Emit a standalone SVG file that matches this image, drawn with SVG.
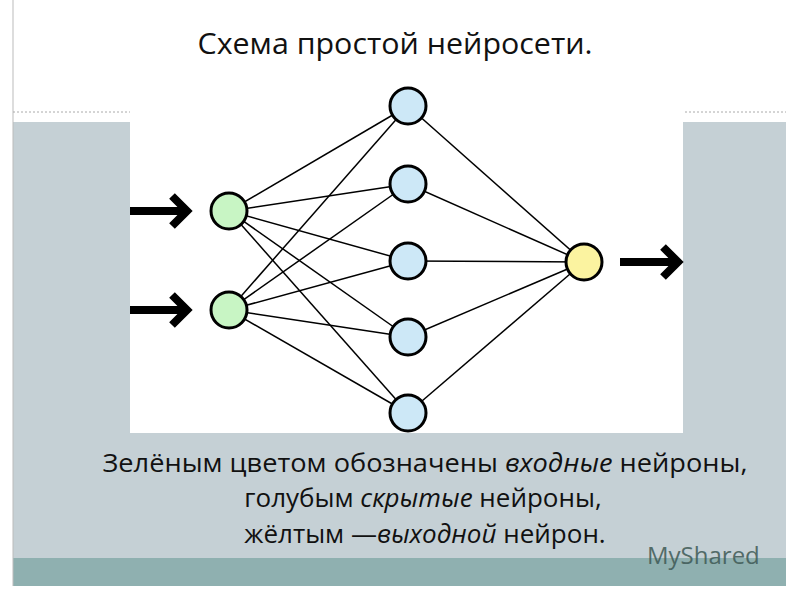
<svg xmlns="http://www.w3.org/2000/svg" width="800" height="600" viewBox="0 0 800 600">
<style>
.n{stroke:#000;stroke-width:3}
.c line{stroke:#000;stroke-width:1.5}
.t{font-family:"Open Sans","Liberation Sans",sans-serif;fill:#111}
.arr{stroke:#000;stroke-width:8;fill:none}
</style>
<rect width="800" height="600" fill="#fff"/>
<rect x="13" y="122" width="773" height="436" fill="#c5d0d5"/>
<rect x="13" y="558" width="773" height="28" fill="#8fb0b0"/>
<line x1="13" y1="0" x2="13" y2="586" stroke="#bbb"/>
<line x1="13" y1="112" x2="786" y2="112" stroke="#aaa" stroke-dasharray="2,2"/>
<rect x="130" y="105" width="553" height="328" fill="#fff"/>
<text class="t" x="395" y="54" font-size="30" text-anchor="middle" textLength="395" lengthAdjust="spacingAndGlyphs">Схема простой нейросети.</text>
<g class="c">
<g id="e">
<line x1="229" y1="211" x2="408" y2="106"/><line x1="229" y1="211" x2="408" y2="184"/><line x1="229" y1="211" x2="408" y2="261"/><line x1="229" y1="211" x2="408" y2="337"/><line x1="229" y1="211" x2="408" y2="413"/>
<line x1="229" y1="310" x2="408" y2="106"/><line x1="229" y1="310" x2="408" y2="184"/><line x1="229" y1="310" x2="408" y2="261"/><line x1="229" y1="310" x2="408" y2="337"/><line x1="229" y1="310" x2="408" y2="413"/>
<line x1="408" y1="106" x2="584" y2="262"/><line x1="408" y1="184" x2="584" y2="262"/><line x1="408" y1="261" x2="584" y2="262"/><line x1="408" y1="337" x2="584" y2="262"/><line x1="408" y1="413" x2="584" y2="262"/>
</g>
<path class="arr" d="M130 211H186M172 196l15 15-15 15"/>
<path class="arr" d="M130 310H186M172 295l15 15-15 15"/>
<path class="arr" d="M620 262H677M663 247l15 15-15 15"/>
</g>
<g id="in1"><circle class="n" cx="229" cy="211" r="18" fill="#c8f5c4"/></g>
<g id="in2"><circle class="n" cx="229" cy="310" r="18" fill="#c8f5c4"/></g>
<g id="h1"><circle class="n" cx="408" cy="106" r="18" fill="#cde8f7"/></g>
<g id="h2"><circle class="n" cx="408" cy="184" r="18" fill="#cde8f7"/></g>
<g id="h3"><circle class="n" cx="408" cy="261" r="18" fill="#cde8f7"/></g>
<g id="h4"><circle class="n" cx="408" cy="337" r="18" fill="#cde8f7"/></g>
<g id="h5"><circle class="n" cx="408" cy="413" r="18" fill="#cde8f7"/></g>
<g id="out"><circle class="n" cx="584" cy="262" r="18" fill="#fbf3a0"/></g>
<text class="t" x="425" y="472" font-size="26" text-anchor="middle" textLength="645" lengthAdjust="spacingAndGlyphs">Зелёным цветом обозначены <tspan font-style="italic">входные</tspan> нейроны,</text>
<text class="t" x="423" y="507" font-size="26" text-anchor="middle">голубым <tspan font-style="italic">скрытые</tspan> нейроны,</text>
<text class="t" x="425" y="543" font-size="26" text-anchor="middle">жёлтым —<tspan font-style="italic">выходной</tspan> нейрон.</text>
<text x="647" y="564" font-size="24" font-family="Open Sans,Liberation Sans,sans-serif" fill="#3f5a56" opacity="0.85">MyShared</text>
</svg>
